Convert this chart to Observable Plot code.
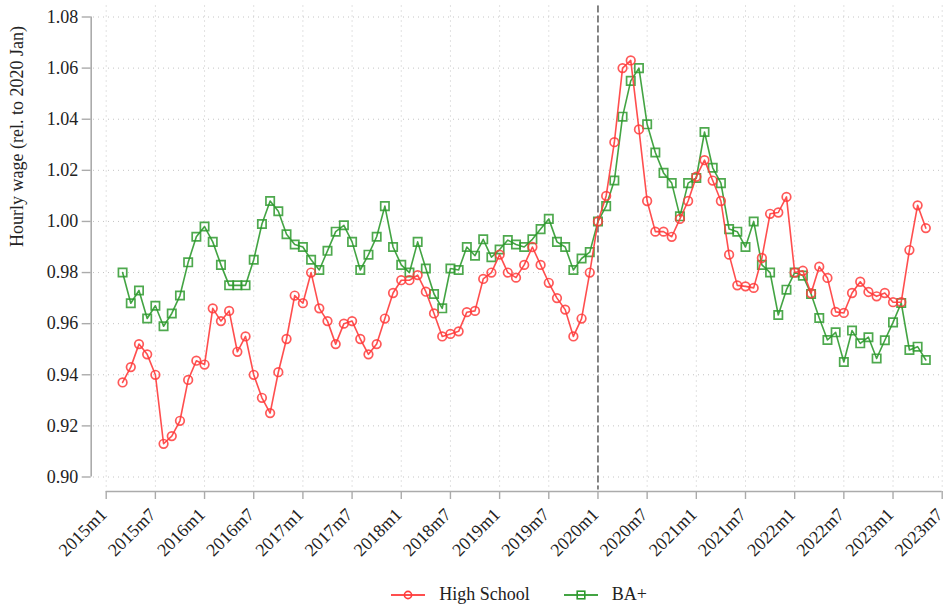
<!DOCTYPE html>
<html><head><meta charset="utf-8">
<script src="https://cdn.jsdelivr.net/npm/d3@7"></script>
<script src="https://cdn.jsdelivr.net/npm/@observablehq/plot@0.6"></script>
<style>
body{margin:0;background:#fff;font-family:"Liberation Serif","Times New Roman",serif;}
#legend{display:flex;justify-content:center;align-items:center;gap:34px;height:37px;margin-top:6px;box-sizing:border-box;padding-left:91px;width:947px;font-size:18px;color:#222}
.item{display:flex;align-items:center;gap:14px}
.item svg{display:block}
</style></head><body>
<div id="chart"></div>
<div id="legend"></div>
<script>
const firstMonth = "2015m3";
const seriesNames = ["High School", "BA+"];
const seriesColors = ["#ff3b3b", "#2f9a2f"];
const highSchool = [
  0.937, 0.943, 0.952, 0.948, 0.940, 0.913, 0.916, 0.922, 0.938, 0.9455,
  0.944, 0.966, 0.961, 0.965, 0.949, 0.955, 0.940, 0.931, 0.925, 0.941,
  0.954, 0.971, 0.968, 0.980, 0.966, 0.961, 0.952, 0.960, 0.961, 0.954,
  0.948, 0.952, 0.962, 0.972, 0.977, 0.977, 0.979, 0.9725, 0.964, 0.955,
  0.956, 0.957, 0.9645, 0.965, 0.9775, 0.980, 0.987, 0.980, 0.978, 0.983,
  0.990, 0.983, 0.976, 0.970, 0.9655, 0.955, 0.962, 0.980, 1.000, 1.010,
  1.031, 1.060, 1.063, 1.036, 1.008, 0.996, 0.996, 0.994, 1.001, 1.008,
  1.0175, 1.024, 1.016, 1.008, 0.987, 0.975, 0.9746, 0.974, 0.9857, 1.003,
  1.0035, 1.0096, 0.980, 0.9807, 0.9719, 0.9823, 0.9779, 0.9646, 0.9642, 0.972,
  0.9764, 0.9724, 0.9707, 0.972, 0.9684, 0.9684, 0.9888, 1.0063, 0.9974
];
const baPlus = [
  0.980, 0.968, 0.973, 0.962, 0.967, 0.959, 0.964, 0.971, 0.984, 0.994,
  0.998, 0.992, 0.983, 0.975, 0.975, 0.975, 0.985, 0.999, 1.008, 1.004,
  0.995, 0.991, 0.990, 0.985, 0.981, 0.9885, 0.996, 0.9985, 0.992, 0.981,
  0.987, 0.994, 1.006, 0.990, 0.983, 0.980, 0.992, 0.9816, 0.9716, 0.966,
  0.9816, 0.981, 0.990, 0.9866, 0.993, 0.986, 0.989, 0.9927, 0.991, 0.990,
  0.993, 0.997, 1.001, 0.992, 0.990, 0.981, 0.9855, 0.988, 1.000, 1.006,
  1.016, 1.041, 1.055, 1.060, 1.038, 1.027, 1.019, 1.015, 1.002, 1.015,
  1.017, 1.035, 1.021, 1.015, 0.997, 0.996, 0.990, 1.000, 0.983, 0.980,
  0.9634, 0.9733, 0.980, 0.9788, 0.9716, 0.9622, 0.9536, 0.9566, 0.945, 0.9573,
  0.9523, 0.9547, 0.9464, 0.9535, 0.9605, 0.9681, 0.9497, 0.951, 0.9458
];
const tickLabels = ["2015m1","2015m7","2016m1","2016m7","2017m1","2017m7","2018m1","2018m7","2019m1","2019m7","2020m1","2020m7","2021m1","2021m7","2022m1","2022m7","2023m1","2023m7"];
const yTicks = [0.90, 0.92, 0.94, 0.96, 0.98, 1.00, 1.02, 1.04, 1.06, 1.08];
const yTitle = "Hourly wage (rel. to 2020 Jan)";
const markerMonth = "2020m1";

function monthIndex(lbl) {
  const [y, m] = lbl.split("m").map(Number);
  return y * 12 + (m - 1);
}
const base = monthIndex(tickLabels[0]);
const idx = lbl => monthIndex(lbl) - base;
const start = idx(firstMonth);
const hsData = highSchool.map((v, i) => ({t: start + i, v, series: seriesNames[0]}));
const baData = baPlus.map((v, i) => ({t: start + i, v, series: seriesNames[1]}));
const tickIdx = tickLabels.map(idx);
const labelOf = new Map(tickLabels.map(l => [idx(l), l]));
const xMin = tickIdx[0], xMax = tickIdx[tickIdx.length - 1];
const yMin = yTicks[0], yMax = yTicks[yTicks.length - 1];

const W = 947, H = 570;
const axisColor = "#ababab";
const gridStyle = {stroke: "#c4c4c4", strokeDasharray: "1,4", strokeWidth: 1};

const chart = Plot.plot({
  width: W, height: H,
  marginLeft: 105.7, marginRight: 5.3, marginTop: 16.5, marginBottom: H - 476.5,
  style: {fontFamily: "'Liberation Serif', 'Times New Roman', serif", fontSize: "18px", color: "#222", background: "#fff"},
  x: {type: "linear", domain: [xMin, xMax]},
  y: {type: "linear", domain: [yMin, yMax]},
  color: {domain: seriesNames, range: seriesColors},
  marks: [
    Plot.ruleY(yTicks, {...gridStyle, insetLeft: -12.7, insetRight: -1}),
    Plot.ruleX(tickIdx, {...gridStyle, insetTop: -11, insetBottom: -11}),
    Plot.ruleX([idx(markerMonth)], {stroke: "#555", strokeDasharray: "7,3", strokeWidth: 1.4, insetTop: -11, insetBottom: -13}),
    Plot.ruleX([xMin], {y1: yMin, y2: yMax, dx: -15, stroke: axisColor, strokeWidth: 1.6}),
    Plot.ruleY([yMin], {x1: xMin, x2: xMax, dy: 14.5, stroke: axisColor, strokeWidth: 1.6}),
    Plot.axisY(yTicks, {tickFormat: d => d.toFixed(2), dx: -15, tickSize: 9, tickPadding: 4, stroke: axisColor, strokeWidth: 1.4, fill: "#222", label: null, fontSize: 18}),
    Plot.axisX(tickIdx, {tickFormat: () => "", dy: 14.5, tickSize: 8, tickPadding: 0, stroke: axisColor, strokeWidth: 1.4, label: null}),
    Plot.axisX(tickIdx, {tickFormat: d => labelOf.get(d), tickRotate: -45, dx: -2.5, dy: 14.5, tickSize: 0, tickPadding: 20, fill: "#222", label: null, fontSize: 18}),
    Plot.text([yTitle], {frameAnchor: "left", rotate: -90, dx: -88.7, fontSize: 18, fill: "#222"}),
    Plot.line(baData, {x: "t", y: "v", stroke: "series", strokeWidth: 1.6, strokeOpacity: 0.9}),
    Plot.dot(baData, {x: "t", y: "v", stroke: "series", symbol: "square", r: 4.7, strokeWidth: 1.7, strokeOpacity: 0.85, fill: "none"}),
    Plot.line(hsData, {x: "t", y: "v", stroke: "series", strokeWidth: 1.6, strokeOpacity: 0.9}),
    Plot.dot(hsData, {x: "t", y: "v", stroke: "series", symbol: "circle", r: 4.3, strokeWidth: 1.7, strokeOpacity: 0.85, fill: "none"})
  ]
});
document.getElementById("chart").appendChild(chart);

const legend = document.getElementById("legend");
seriesNames.forEach((name, k) => {
  const item = document.createElement("div");
  item.className = "item";
  const c = seriesColors[k];
  const marker = k === 0
    ? `<circle cx="17" cy="9" r="3.6" fill="none" stroke="${c}" stroke-width="1.6"/>`
    : `<rect x="13.2" y="5.2" width="7.6" height="7.6" fill="none" stroke="${c}" stroke-width="1.6"/>`;
  item.innerHTML = `<svg width="34" height="18"><line x1="0" x2="34" y1="9" y2="9" stroke="${c}" stroke-width="1.8" stroke-opacity="0.9"/>${marker}</svg><span>${name}</span>`;
  legend.appendChild(item);
});
</script>
</body></html>
